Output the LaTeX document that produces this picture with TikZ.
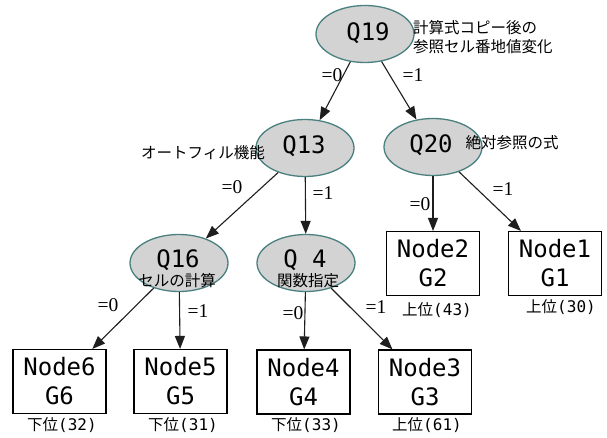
\documentclass[tikz,border=0pt]{standalone}
\usepackage{fontspec}
\newfontfamily\jp{Noto Sans CJK JP}
\newfontfamily\mono{DejaVu Sans Mono}
\newfontfamily\lser{Liberation Serif}
\usetikzlibrary{shapes.geometric,arrows.meta}
\definecolor{qborder}{RGB}{74,128,128}
\definecolor{qfill}{RGB}{211,211,211}
\definecolor{edgecol}{RGB}{30,30,30}
\begin{document}
\begin{tikzpicture}[x=1pt,y=-1pt,
 qnode/.style={ellipse,draw=qborder,fill=qfill,line width=1.3pt,minimum width=98pt,minimum height=57pt,inner sep=0pt},
 leaf/.style={rectangle,draw=black,line width=1.1pt,minimum width=93pt,minimum height=64pt,inner sep=0pt,align=center,font=\mono\fontsize{24}{29}\selectfont},
 qtext/.style={font=\mono\fontsize{24}{29}\selectfont,anchor=base,inner sep=0pt},
 jtext/.style={font=\jp\fontsize{15.5}{19.5}\selectfont,inner sep=0pt},
 rank/.style={font=\jp\fontsize{15.5}{19.5}\selectfont,inner sep=0pt},
 elab/.style={font=\lser\fontsize{19.5}{19.5}\selectfont,inner sep=0pt},
 edgeline/.style={draw=edgecol,line width=1.1pt,-{Triangle[length=13pt,width=10pt]}},
]
\fill[white] (0,0) rectangle (607,438);
\useasboundingbox (0,0) rectangle (607,438);

% decision nodes
\node[qnode] (q19) at (365,34) {};
\node[qnode] (q13) at (305,148) {};
\node[qnode] (q20) at (433,147) {};
\node[qnode] (q16) at (179,263) {};
\node[qnode] (q4) at (306,263) {};

% leaves
\node[leaf] (n6) at (59.5,381.5) {Node6\\G6};
\node[leaf] (n5) at (180.5,381.5) {Node5\\G5};
\node[leaf] (n4) at (303.5,382) {Node4\\G4};
\node[leaf] (n3) at (425,382) {Node3\\G3};
\node[leaf] (n2) at (433,263.5) {Node2\\G2};
\node[leaf] (n1) at (555,263.5) {Node1\\G1};

% edges
\draw[edgeline] (q19) -- (q13);
\draw[edgeline] (q19) -- (q20);
\draw[edgeline] (q13) -- (q16);
\draw[edgeline] (q13) -- (q4);
\draw[edgeline] (q20) -- (n2);
\draw[edgeline] (q20) -- (n1);
\draw[edgeline] (q16) -- (n6);
\draw[edgeline] (q16) -- (n5);
\draw[edgeline] (q4) -- (n4);
\draw[edgeline] (q4) -- (n3);

% texts in decision nodes
\node[qtext] (t19) at (368,41) {Q19};
\node[qtext] (t13) at (304,154) {Q13};
\node[qtext] (t20) at (431,153) {Q20};
\node[qtext] (t16) at (178,267) {Q16};
\node[qtext] (t4) at (305,267) {Q\ 4};
\node[jtext] (s16) at (177,281) {セルの計算};
\node[jtext] (s4) at (308,281) {関数指定};

% annotations
\node[jtext,anchor=west,align=left] (a19) at (413,37) {計算式コピー後の\\参照セル番地値変化};
\node[jtext] (a13) at (203,153) {オートフィル機能};
\node[jtext] (a20) at (512,143) {絶対参照の式};

% edge labels
\node[elab] (l190) at (332,75) {=0};
\node[elab] (l191) at (413,75) {=1};
\node[elab] (l130) at (232,187) {=0};
\node[elab] (l131) at (323,193) {=1};
\node[elab] (l200) at (420,204) {=0};
\node[elab] (l201) at (503,189) {=1};
\node[elab] (l160) at (108,305) {=0};
\node[elab] (l161) at (198,311) {=1};
\node[elab] (l40) at (293,313) {=0};
\node[elab] (l41) at (376,307) {=1};

% rank labels
\node[rank] (r6) at (62,425) {下位{\mono\fontsize{16}{16}\selectfont (32)}};
\node[rank] (r5) at (183,425) {下位{\mono\fontsize{16}{16}\selectfont (31)}};
\node[rank] (r4) at (306,425) {下位{\mono\fontsize{16}{16}\selectfont (33)}};
\node[rank] (r3) at (427,425) {上位{\mono\fontsize{16}{16}\selectfont (61)}};
\node[rank] (r2) at (437,310) {上位{\mono\fontsize{16}{16}\selectfont (43)}};
\node[rank] (r1) at (561,307) {上位{\mono\fontsize{16}{16}\selectfont (30)}};
\end{tikzpicture}
\end{document}
